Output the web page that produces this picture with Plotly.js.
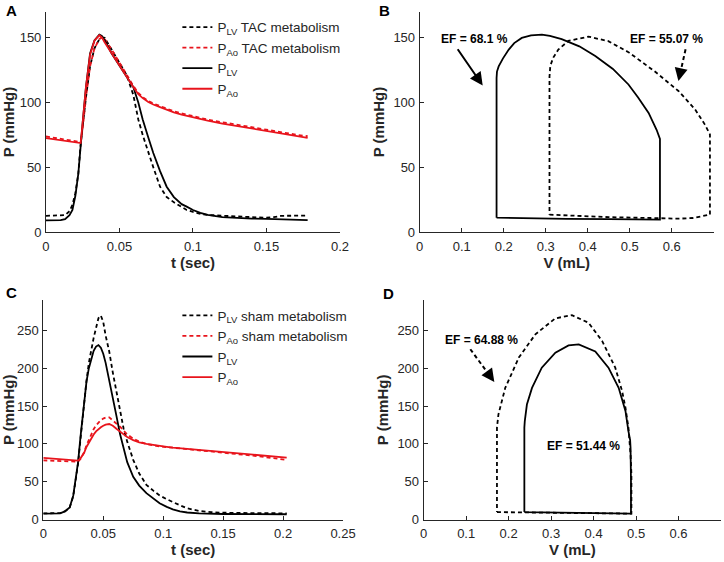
<!DOCTYPE html>
<html>
<head>
<meta charset="utf-8">
<script src="https://cdn.plot.ly/plotly-3.0.1.min.js"></script>
<style>html,body{margin:0;padding:0;background:#fff;}#chart{width:724px;height:562px;}</style>
</head>
<body>
<div id="chart"></div>
<script>
// ---------- Panel A: pressure vs time (TAC) ----------
const tA = [0, 0.005, 0.01, 0.013, 0.016, 0.018, 0.02, 0.022, 0.0236, 0.025, 0.0272, 0.03, 0.033, 0.0363, 0.038, 0.04, 0.0447, 0.05, 0.055, 0.0594, 0.0628, 0.0658, 0.0696, 0.073, 0.0776, 0.0821, 0.087, 0.0923, 0.0957, 0.1, 0.105, 0.11, 0.12, 0.13, 0.14, 0.15, 0.155, 0.16, 0.17, 0.178];
const pLV_A_tac = [12.5, 12.5, 12.6, 13, 16, 21, 30, 45, 68, 83, 104, 128, 142, 149, 150.4, 150, 141, 131, 121, 106, 87, 75, 61, 50, 35, 27, 23, 19.6, 17, 15.5, 14, 13.2, 12.4, 12, 11.5, 11, 11.5, 12.5, 12.6, 12.6];
const pAo_A_tac = [73.8, 73, 72.2, 71.6, 71, 70.6, 70.2, 69.8, 69.4, 80, 104, 128, 142, 149, 150.4, 149, 141, 130.5, 121, 113, 107.5, 104.3, 101.3, 99.3, 97.3, 95.3, 93.3, 91.6, 90.6, 89.3, 88.1, 86.9, 84.8, 82.8, 80.8, 78.8, 77.8, 76.9, 75.2, 74];
const pLV_A = [9, 9, 9.2, 10, 13, 17, 28, 45, 68.7, 85, 112, 138, 148, 152.6, 151.5, 148, 138, 128.5, 120, 112, 100, 87, 73, 61, 47, 35, 27, 21.5, 19.6, 17, 14.8, 13.2, 11.5, 10.8, 10.4, 10.2, 10, 9.8, 9.4, 9.2];
const pAo_A = [72.6, 71.8, 71, 70.5, 70, 69.7, 69.3, 69, 68.7, 85, 112, 137, 148, 152, 150.5, 146.5, 138, 128.5, 120, 112, 106.5, 103.5, 100.5, 98.5, 96.5, 94.5, 92.5, 90.8, 89.8, 88.5, 87.3, 86, 83.8, 81.8, 79.8, 77.8, 76.8, 75.9, 74.2, 72.8];

// ---------- Panel B: PV loops (TAC) ----------
const vB = [0.183, 0.25, 0.35, 0.45, 0.54, 0.572, 0.572, 0.572, 0.564, 0.545, 0.52, 0.497, 0.46, 0.418, 0.38, 0.338, 0.31, 0.291, 0.265, 0.243, 0.225, 0.212, 0.198, 0.188, 0.184, 0.183, 0.183];
const pB = [11.1, 10.6, 10.2, 9.9, 9.6, 9.6, 40, 72, 79, 92, 104, 114, 126, 136, 143.5, 149, 151.5, 152.5, 152, 150, 146, 141, 134, 128, 124, 119, 11.1];
const vB_tac = [0.309, 0.35, 0.45, 0.55, 0.6, 0.616, 0.65, 0.691, 0.691, 0.691, 0.679, 0.655, 0.616, 0.56, 0.497, 0.449, 0.402, 0.354, 0.33, 0.318, 0.311, 0.309, 0.309];
const pB_tac = [13.4, 12.8, 11.5, 10.8, 10.4, 10.3, 10.8, 13.4, 45, 75.4, 83, 95, 109, 124, 139, 147.5, 151, 147.7, 141, 134.8, 128.5, 120, 13.4];

// ---------- Panel C: pressure vs time (sham) ----------
const tC = [0, 0.005, 0.01, 0.014, 0.018, 0.022, 0.025, 0.027, 0.029, 0.031, 0.034, 0.036, 0.038, 0.040, 0.042, 0.044, 0.046, 0.048, 0.050, 0.052, 0.055, 0.058, 0.061, 0.064, 0.067, 0.070, 0.075, 0.080, 0.086, 0.092, 0.097, 0.103, 0.108, 0.114, 0.12, 0.13, 0.14, 0.15, 0.175, 0.203];
const pLV_C_sham = [8.4, 8.4, 8.4, 8.6, 11, 16, 31, 50, 74, 106, 155, 183, 207, 226, 240, 253, 266, 269.5, 261, 243, 222, 194, 168, 145, 120, 103, 79, 61, 46, 38, 32, 27, 23.8, 19, 15, 11.5, 10, 9.2, 8.6, 8.4];
const pAo_C_sham = [78.3, 77.9, 77.5, 77, 76.6, 76.2, 75.9, 75.7, 76.5, 80, 89, 98, 106, 113.5, 119.5, 124.5, 128.5, 131.5, 133.5, 134.7, 135, 131, 127, 122.7, 117.5, 112.5, 107, 103, 100, 98, 96.8, 95.8, 95, 94, 93.2, 92, 90.5, 89, 84.5, 79];
const pLV_C = [8, 8, 8, 8.3, 11, 16, 32, 52, 76, 109, 158, 182, 200, 212, 223, 228.5, 230.5, 227, 219, 207, 185, 160, 137, 113, 93, 76, 56.7, 45, 35, 27, 21.6, 17, 13.7, 11, 9.5, 8.3, 7.8, 7.5, 7.3, 7.2];
const pAo_C = [81.5, 81, 80.5, 80, 79.5, 79, 78.5, 78.2, 78, 81, 88, 96, 102, 108, 112.5, 116.5, 119.5, 122, 124, 125.5, 126.3, 124, 120, 116, 112, 109, 105, 102, 100, 98.3, 97, 96, 95, 94.2, 93.5, 92.5, 91.2, 90, 86.5, 82];

// ---------- Panel D: PV loops (sham) ----------
const vD = [0.237, 0.3, 0.4, 0.488, 0.488, 0.488, 0.487, 0.486, 0.482, 0.475, 0.459, 0.435, 0.404, 0.365, 0.341, 0.31, 0.278, 0.255, 0.243, 0.238, 0.237, 0.237];
const pD = [10, 9.5, 8.8, 8, 51, 86, 95, 105, 117, 143.5, 174, 200.7, 222, 231.5, 230, 220.5, 200.7, 174, 152, 130, 121.5, 10];
const vD_sham = [0.1725, 0.25, 0.35, 0.45, 0.489, 0.489, 0.487, 0.482, 0.475, 0.467, 0.451, 0.42, 0.388, 0.349, 0.31, 0.263, 0.224, 0.192, 0.176, 0.1725, 0.1725];
const pD_sham = [10, 9.5, 9, 8.5, 8, 60, 86, 121.5, 148, 170, 200.7, 236, 260, 270, 265.8, 244.7, 214, 174, 139, 121.5, 10];

// ---------- tick labels ----------
const xTicksA = [0, 0.05, 0.1, 0.15, 0.2];
const xTickTextA = ['0', '0.05', '0.1', '0.15', '0.2'];
const xTicksC = [0, 0.05, 0.1, 0.15, 0.2, 0.25];
const xTickTextC = ['0', '0.05', '0.1', '0.15', '0.2', '0.25'];
const xTicksV = [0, 0.1, 0.2, 0.3, 0.4, 0.5, 0.6];
const xTickTextV = ['0', '0.1', '0.2', '0.3', '0.4', '0.5', '0.6'];
const yTicksAB = [0, 50, 100, 150];
const yTicksCD = [0, 50, 100, 150, 200, 250];

const RED = '#e8141c';
const BLK = '#000000';
const LW = 1.8;
const DASH = '4px,3px';

function tr(x, y, xa, ya, color, dash, name, legend, show) {
  return {
    x: x, y: y, xaxis: xa, yaxis: ya, type: 'scatter', mode: 'lines',
    line: {color: color, width: LW, dash: dash},
    name: name, legend: legend, showlegend: show, hoverinfo: 'skip'
  };
}

const data = [
  tr(tA, pLV_A_tac, 'x', 'y', BLK, DASH, 'P<sub>LV</sub> TAC metabolism', 'legend', true),
  tr(tA, pAo_A_tac, 'x', 'y', RED, DASH, 'P<sub>Ao</sub> TAC metabolism', 'legend', true),
  tr(tA, pLV_A, 'x', 'y', BLK, 'solid', 'P<sub>LV</sub>', 'legend', true),
  tr(tA, pAo_A, 'x', 'y', RED, 'solid', 'P<sub>Ao</sub>', 'legend', true),
  tr(vB, pB, 'x2', 'y2', BLK, 'solid', 'PV', 'legend', false),
  tr(vB_tac, pB_tac, 'x2', 'y2', BLK, DASH, 'PV TAC', 'legend', false),
  tr(tC, pLV_C_sham, 'x3', 'y3', BLK, DASH, 'P<sub>LV</sub> sham metabolism', 'legend2', true),
  tr(tC, pAo_C_sham, 'x3', 'y3', RED, DASH, 'P<sub>Ao</sub> sham metabolism', 'legend2', true),
  tr(tC, pLV_C, 'x3', 'y3', BLK, 'solid', 'P<sub>LV</sub>', 'legend2', true),
  tr(tC, pAo_C, 'x3', 'y3', RED, 'solid', 'P<sub>Ao</sub>', 'legend2', true),
  tr(vD, pD, 'x4', 'y4', BLK, 'solid', 'PV', 'legend', false),
  tr(vD_sham, pD_sham, 'x4', 'y4', BLK, DASH, 'PV sham', 'legend', false)
];

const AX = '#262626';
const FONT = 'Liberation Sans, Arial, Helvetica, sans-serif';
function xax(domain, anchor, range, tv, tt, title) {
  return {
    domain: domain, anchor: anchor, range: range, tickmode: 'array', tickvals: tv, ticktext: tt,
    showline: true, linecolor: AX, linewidth: 1, ticks: 'inside', ticklen: 4, tickcolor: AX, tickwidth: 1,
    showgrid: false, zeroline: false, tickfont: {size: 13, color: AX, family: FONT}, ticklabelstandoff: 2,
    title: {text: '<b>' + title + '</b>', font: {size: 15, color: AX, family: FONT}, standoff: 1},
    fixedrange: true
  };
}
function yax(domain, anchor, range, tv) {
  return {
    domain: domain, anchor: anchor, range: range, tickmode: 'array', tickvals: tv,
    ticktext: tv.map(String),
    showline: true, linecolor: AX, linewidth: 1, ticks: 'inside', ticklen: 4, tickcolor: AX, tickwidth: 1,
    showgrid: false, zeroline: false, tickfont: {size: 13, color: AX, family: FONT}, ticklabelstandoff: 1,
    title: {text: '<b>P (mmHg)</b>', font: {size: 15, color: AX, family: FONT}, standoff: 5},
    fixedrange: true
  };
}

const yDomTop = [0.5872, 0.9786];
const yDomBot = [0.0753, 0.4662];

function txt(x, y, xref, yref, text, size) {
  return {x: x, y: y, xref: xref, yref: yref, text: text, showarrow: false,
    font: {size: size, color: '#000', family: FONT}, xanchor: 'center', yanchor: 'middle'};
}
function arrow(x, y, ax, ay, xref, yref) {
  return {x: x, y: y, ax: ax, ay: ay, xref: xref, yref: yref, axref: xref, ayref: yref,
    text: '', showarrow: true, arrowhead: 2, arrowsize: 1.3, arrowwidth: 2, arrowcolor: '#000', standoff: 0};
}
function letter(px, py, s) {
  return {x: px / 724, y: 1 - py / 562, xref: 'paper', yref: 'paper', text: '<b>' + s + '</b>',
    showarrow: false, xanchor: 'center', yanchor: 'middle', font: {size: 15, color: '#000', family: FONT}};
}

const layout = {
  width: 724, height: 562,
  margin: {l: 0, r: 0, t: 0, b: 0},
  paper_bgcolor: '#fff', plot_bgcolor: '#fff',
  font: {family: FONT, color: AX},
  showlegend: true,
  xaxis: xax([0.0635, 0.4696], 'y', [0, 0.2], xTicksA, xTickTextA, 't (sec)'),
  yaxis: yax(yDomTop, 'x', [0, 170], yTicksAB),
  xaxis2: xax([0.5797, 0.9858], 'y2', [0, 0.7], xTicksV, xTickTextV, 'V (mL)'),
  yaxis2: yax(yDomTop, 'x2', [0, 170], yTicksAB),
  xaxis3: xax([0.0598, 0.4738], 'y3', [0, 0.25], xTicksC, xTickTextC, 't (sec)'),
  yaxis3: yax(yDomBot, 'x3', [0, 290], yTicksCD),
  xaxis4: xax([0.5852, 0.9959], 'y4', [0, 0.7], xTicksV, xTickTextV, 'V (mL)'),
  yaxis4: yax(yDomBot, 'x4', [0, 290], yTicksCD),
  legend: {x: 0.245, y: 0.979, xanchor: 'left', yanchor: 'top', bgcolor: 'rgba(0,0,0,0)',
    font: {size: 13.5, color: AX, family: FONT}, tracegroupgap: 0, itemwidth: 30},
  legend2: {x: 0.245, y: 0.466, xanchor: 'left', yanchor: 'top', bgcolor: 'rgba(0,0,0,0)',
    font: {size: 13.5, color: AX, family: FONT}, tracegroupgap: 0, itemwidth: 30},
  shapes: [
    {type: 'line', xref: 'x2', yref: 'y2', x0: 0.633, y0: 141.2, x1: 0.6205, y1: 123,
      line: {color: '#000', width: 2, dash: DASH}},
    {type: 'line', xref: 'x4', yref: 'y4', x0: 0.1098, y0: 225, x1: 0.155, y1: 190.5,
      line: {color: '#000', width: 2, dash: DASH}}
  ],
  annotations: [
    letter(11, 11, 'A'),
    letter(384, 10, 'B'),
    letter(11, 292, 'C'),
    letter(388, 293, 'D'),
    txt(0.130, 149, 'x2', 'y2', '<b>EF = 68.1 %</b>', 12),
    txt(0.588, 149, 'x2', 'y2', '<b>EF = 55.07 %</b>', 12),
    txt(0.1357, 236.8, 'x4', 'y4', '<b>EF = 64.88 %</b>', 12),
    txt(0.3765, 97.3, 'x4', 'y4', '<b>EF = 51.44 %</b>', 12),
    arrow(0.15, 113.2, 0.088, 142.4, 'x2', 'y2'),
    arrow(0.616, 116.7, 0.6215, 125, 'x2', 'y2'),
    arrow(0.1663, 181.8, 0.152, 193, 'x4', 'y4')
  ]
};

Plotly.newPlot('chart', data, layout, {staticPlot: true, displayModeBar: false});
</script>
</body>
</html>
